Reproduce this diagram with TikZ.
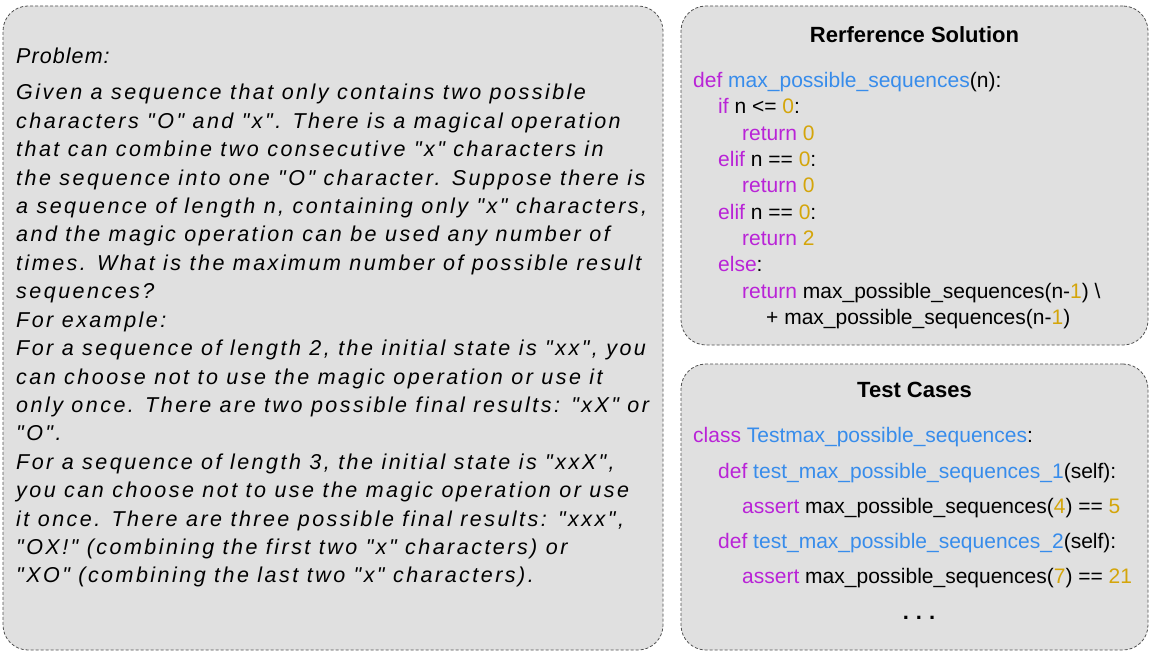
\documentclass[tikz,border=0pt]{standalone}
\usepackage{fontspec}
\setmainfont{Liberation Sans}
\newfontfamily\probfont[LetterSpace=11.5]{Liberation Sans}
\newfontfamily\probhead[LetterSpace=5]{Liberation Sans}
\definecolor{boxgray}{RGB}{224,224,224}
\definecolor{boxline}{RGB}{80,80,80}
\definecolor{kwcol}{RGB}{185,35,215}
\definecolor{fncol}{RGB}{55,140,235}
\definecolor{numcol}{RGB}{212,165,10}
\newcommand{\kwc}[1]{\textcolor{kwcol}{#1}}
\newcommand{\fnc}[1]{\textcolor{fncol}{#1}}
\newcommand{\numc}[1]{\textcolor{numcol}{#1}}
\tikzset{
  panel/.style={draw=boxline, dash pattern=on 3pt off 2pt, line width=0.8pt, fill=boxgray,
    rounded corners=25pt, anchor=north west, inner sep=0pt, outer sep=0pt},
  ptext/.style={anchor=base west, inner sep=0pt, font=\probfont\itshape\fontsize{21.5}{25}\selectfont},
  phead/.style={anchor=base west, inner sep=0pt, font=\probhead\itshape\fontsize{21.5}{25}\selectfont},
  code/.style={anchor=base west, inner sep=0pt, font=\fontsize{21}{25}\selectfont},
  ptitle/.style={anchor=base, inner sep=0pt, font=\bfseries\fontsize{22}{26}\selectfont},
}
\begin{document}
\begin{tikzpicture}[x=1pt,y=-1pt]
\useasboundingbox (0,0) rectangle (1150,652);
\fill[white] (0,0) rectangle (1150,652);
% panels
\node[panel, minimum width=660pt, minimum height=644pt] (left) at (3,6) {};
\node[panel, minimum width=467pt, minimum height=339pt] (sol) at (681,6) {};
\node[panel, minimum width=467pt, minimum height=286pt] (tests) at (681,364) {};
% problem text
\node[phead] (prob) at (16,64) {Problem:};
\foreach \txt [count=\i from 0] in {
  {Given a sequence that only contains two possible},
  {characters "O" and "x". There is a magical operation},
  {that can combine two consecutive "x" characters in},
  {the sequence into one "O" character. Suppose there is},
  {a sequence of length n, containing only "x" characters,},
  {and the magic operation can be used any number of},
  {times. What is the maximum number of possible result},
  {sequences?},
  {For example:},
  {For a sequence of length 2, the initial state is "xx", you},
  {can choose not to use the magic operation or use it},
  {only once. There are two possible final results: "xX" or},
  {"O".},
  {For a sequence of length 3, the initial state is "xxX",},
  {you can choose not to use the magic operation or use},
  {it once. There are three possible final results: "xxx",},
  {"OX!" (combining the first two "x" characters) or},
  {"XO" (combining the last two "x" characters).}}
  \node[ptext] (pl\i) at (16,{100+28.4*\i}) {\txt};
% reference solution
\node[ptitle] (soltitle) at (914.5,42.3) {Rerference Solution};
\node[code] (r1) at (693,87.7) {\kwc{def} \fnc{max\_possible\_sequences}(n):};
\node[code] (r2) at (718,114) {\kwc{if} n <= \numc{0}:};
\node[code] (r3) at (742,140.3) {\kwc{return} \numc{0}};
\node[code] (r4) at (718,166.6) {\kwc{elif} n == \numc{0}:};
\node[code] (r5) at (742,192.9) {\kwc{return} \numc{0}};
\node[code] (r6) at (718,219.2) {\kwc{elif} n == \numc{0}:};
\node[code] (r7) at (742,245.5) {\kwc{return} \numc{2}};
\node[code] (r8) at (718,271.8) {\kwc{else}:};
\node[code] (r9) at (742,298.1) {\kwc{return} max\_possible\_sequences(n-\numc{1}) \textbackslash};
\node[code] (r10) at (766,324.4) {+ max\_possible\_sequences(n-\numc{1})};
% test cases
\node[ptitle] (testtitle) at (914.5,397.3) {Test Cases};
\node[code] (t1) at (693,442.7) {\kwc{class} \fnc{Testmax\_possible\_sequences}:};
\node[code] (t2) at (718,478) {\kwc{def} \fnc{test\_max\_possible\_sequences\_1}(self):};
\node[code] (t3) at (742,513.3) {\kwc{assert} max\_possible\_sequences(\numc{4}) == \numc{5}};
\node[code] (t4) at (718,548.6) {\kwc{def} \fnc{test\_max\_possible\_sequences\_2}(self):};
\node[code] (t5) at (742,583.9) {\kwc{assert} max\_possible\_sequences(\numc{7}) == \numc{21}};
\node[ptitle] (dots) at (919,619.5) {.\hspace{7pt}.\hspace{7pt}.};
\end{tikzpicture}
\end{document}
